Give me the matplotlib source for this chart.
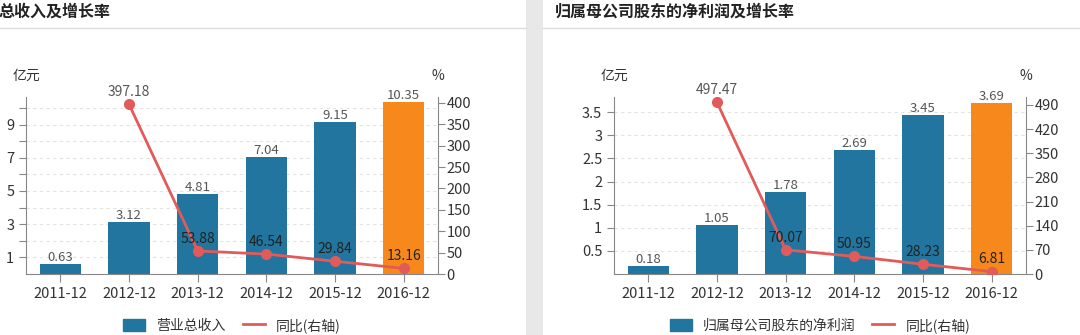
import matplotlib.pyplot as plt
from matplotlib.patches import Rectangle, Patch
from matplotlib.lines import Line2D

plt.rcParams['font.family'] = ['Noto Sans CJK SC', 'DejaVu Sans']

years = ['2011-12', '2012-12', '2013-12', '2014-12', '2015-12', '2016-12']

revenue = [0.63, 3.12, 4.81, 7.04, 9.15, 10.35]
revenue_yoy = [None, 397.18, 53.88, 46.54, 29.84, 13.16]

profit = [0.18, 1.05, 1.78, 2.69, 3.45, 3.69]
profit_yoy = [None, 497.47, 70.07, 50.95, 28.23, 6.81]

BLUE = '#21759f'
ORANGE = '#f7891c'
RED = '#e15b5b'
AXC = '#888888'
W, H = 1080, 335

fig = plt.figure(figsize=(W / 100, H / 100), dpi=100)
fig.patch.set_facecolor('white')

# gray gap between the two panels
fig.add_artist(Rectangle((526 / W, 0), 17 / W, 1, transform=fig.transFigure,
                         facecolor='#e8e8e8', edgecolor='none'))
# separator lines under the titles
fig.add_artist(Line2D([0, 526 / W], [1 - 28 / H] * 2, transform=fig.transFigure, color='#dddddd', lw=1))
fig.add_artist(Line2D([543 / W, 1], [1 - 28 / H] * 2, transform=fig.transFigure, color='#dddddd', lw=1))

fig.text(-1 / W, 1 - 12 / H, '总收入及增长率', fontsize=11.5, fontweight='bold', va='center', ha='left', color='#222222')
fig.text(555 / W, 1 - 12 / H, '归属母公司股东的净利润及增长率', fontsize=11.5, fontweight='bold', va='center', ha='left', color='#222222')


def panel(x0, bars, yoy, ymax, lticks, llabels, rmax, rticks, bar_name):
    ax = fig.add_axes([x0 / W, (H - 274) / H, 412 / W, (274 - 97) / H])
    x = list(range(len(years)))
    colors = [BLUE] * (len(bars) - 1) + [ORANGE]
    ax.bar(x, bars, width=0.6, color=colors, zorder=2)
    for i, v in enumerate(bars):
        ax.text(i, v, f'{v:.2f}', ha='center', va='bottom', fontsize=9.5, color='#555555')
    ax.set_xlim(-0.5, len(years) - 0.5)
    ax.set_ylim(0, ymax)
    ax.set_yticks(lticks)
    ax.set_yticklabels(llabels)
    ax.set_xticks(x)
    ax.set_xticklabels(years)
    ax.grid(axis='y', ls=(0, (3, 3)), color='#e3e3e3', lw=0.8, zorder=0)
    for s in ['top', 'right']:
        ax.spines[s].set_visible(False)
    for s in ['left', 'bottom']:
        ax.spines[s].set_color(AXC)
    ax.tick_params(axis='both', colors=AXC, labelcolor='#333333', labelsize=10.5, length=5)
    ax.tick_params(axis='x', length=6, pad=3)
    ax.text(0, 1.12, '亿元', transform=ax.transAxes, ha='center', va='center', fontsize=10, color='#333333')

    ax2 = ax.twinx()
    xs = [i for i, v in enumerate(yoy) if v is not None]
    ys = [v for v in yoy if v is not None]
    ax2.plot(xs, ys, color=RED, lw=2, marker='o', ms=7, zorder=3)
    for i, v in zip(xs, ys):
        c = '#555555' if v == max(ys) else '#222222'
        ax2.text(i, v + rmax * 0.03, f'{v:.2f}', ha='center', va='bottom', fontsize=10, color=c)
    ax2.set_ylim(0, rmax)
    ax2.set_yticks(rticks)
    for s in ['top', 'left', 'bottom']:
        ax2.spines[s].set_visible(False)
    ax2.spines['right'].set_color(AXC)
    ax2.tick_params(axis='y', colors=AXC, labelcolor='#333333', labelsize=10.5, length=5, pad=1)
    ax2.text(1.0, 1.12, '%', transform=ax.transAxes, ha='center', va='center', fontsize=10, color='#333333')

    handles = [Patch(facecolor=BLUE, edgecolor=BLUE), Line2D([0], [0], color=RED, lw=2)]
    ax.legend(handles, [bar_name, '同比(右轴)'], loc='center', bbox_to_anchor=(0.5, -0.29),
              ncol=2, frameon=False, fontsize=10, handlelength=1.6, handleheight=0.9,
              columnspacing=1.2, labelcolor='#333333')
    return ax


panel(26, revenue, revenue_yoy, 10.66,
      list(range(1, 11)), [str(v) if v % 2 else '' for v in range(1, 11)],
      414, list(range(0, 401, 50)), '营业总收入')

panel(614, profit, profit_yoy, 3.83,
      [0.5, 1, 1.5, 2, 2.5, 3, 3.5], ['0.5', '1', '1.5', '2', '2.5', '3', '3.5'],
      513, list(range(0, 491, 70)), '归属母公司股东的净利润')

fig.savefig('out.png', dpi=100)
